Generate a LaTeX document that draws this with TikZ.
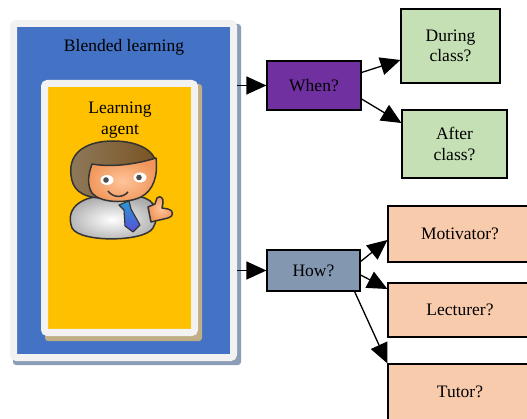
\documentclass[tikz,border=0pt]{standalone}
\usepackage{fontspec}
\setmainfont{Liberation Serif}
\usetikzlibrary{arrows.meta}
\definecolor{panelgray}{HTML}{F2F2F2}
\definecolor{panelshadow}{HTML}{8C9DB8}
\definecolor{blendblue}{HTML}{4472C4}
\definecolor{agentyellow}{HTML}{FFC000}
\definecolor{agentshadow}{HTML}{BFAE86}
\definecolor{whenpurple}{HTML}{7030A0}
\definecolor{wgreen}{HTML}{C5E0B4}
\definecolor{howblue}{HTML}{8497B0}
\definecolor{hpeach}{HTML}{F8CBAD}
\definecolor{hairA}{HTML}{8E7A5C}
\definecolor{hairB}{HTML}{7A5322}
\definecolor{skinA}{HTML}{FFC49A}
\definecolor{skinB}{HTML}{F0965A}
\definecolor{tieA}{HTML}{2A9AD6}
\definecolor{tieB}{HTML}{5A4FD8}
\definecolor{outl}{HTML}{333333}
\begin{document}
\begin{tikzpicture}[x=1pt,y=-1pt,
  txt/.style={font=\fontsize{17.5}{20.5}\selectfont, align=center, text=black},
  box/.style={txt, draw=black, line width=1.2pt, inner sep=0pt},
  arr/.style={line width=1.3pt, -{Triangle[length=20pt,width=18pt]}},
  cart/.style={draw=outl, line width=1.5pt, line join=round}]
\useasboundingbox (0,0) rectangle (527,419);
\clip (0,0) rectangle (527,419);
\fill[white] (0,0) rectangle (527,419);
% outer panel
\fill[panelshadow, rounded corners=3pt] (13,24) rectangle (241,365);
\node[draw=panelgray, line width=7pt, fill=blendblue, rounded corners=3pt,
      minimum width=220pt, minimum height=334pt, inner sep=0pt] (panel) at (123.5,190.5) {};
\node[txt] (title) at (124,47) {Blended learning};
% inner panel
\fill[agentshadow, rounded corners=3pt] (45,84) rectangle (202,341);
\node[draw=panelgray, line width=7pt, fill=agentyellow, rounded corners=3pt,
      minimum width=150pt, minimum height=249pt, inner sep=0pt] (agentpanel) at (119.5,208) {};
\node[txt] (agent) at (120,120) {Learning\\agent};
% clipart person
\shadedraw[cart, inner color=white, outer color=gray!65]
  (72,228) .. controls (64,206) and (85,196) .. (105,196) -- (140,197)
  .. controls (157,199) and (160,216) .. (153,228)
  .. controls (145,242) and (80,243) .. (72,228) -- cycle;
\shadedraw[cart, top color=tieA, bottom color=tieB, line width=1.1pt]
  (119,205) -- (129,201) -- (131,209) -- (140,225) -- (133,232) -- (125,226) -- (124,210) -- cycle;
\shadedraw[cart, inner color=skinA, outer color=skinB]
  (148,207) -- (155,204) -- (157,198) .. controls (160,195) and (164,198) .. (163,203)
  -- (162,208) -- (168,209) .. controls (174,210) and (174,217) .. (168,218) -- (151,222) -- cycle;
\shadedraw[cart, left color=hairA, right color=hairB]
  (71,175) .. controls (68,150) and (90,141) .. (113,141)
  .. controls (140,141) and (158,152) .. (156,168)
  .. controls (155,185) and (120,200) .. (100,198)
  .. controls (80,197) and (72,188) .. (71,175) -- cycle;
\shadedraw[cart, inner color=skinA, outer color=skinB]
  (92,164) .. controls (115,168) and (140,163) .. (156,158)
  .. controls (158,175) and (154,190) .. (141,197)
  .. controls (126,204) and (100,203) .. (92,193)
  .. controls (87,185) and (88,175) .. (92,164) -- cycle;
\fill[white] (107,180) ellipse [x radius=6.5pt, y radius=5pt];
\fill[white] (140,177.5) ellipse [x radius=6.5pt, y radius=5pt];
\fill[gray!60!black] (106,180) circle [radius=2.8pt];
\fill[gray!60!black] (139,177.5) circle [radius=2.8pt];
\draw[cart] (108,191) .. controls (113,198) and (123,198) .. (128,192);
% right side
\node[box, fill=whenpurple, minimum width=94pt, minimum height=49pt] (when) at (314,85.5) {When?};
\node[box, fill=wgreen, minimum width=99pt, minimum height=74pt] (during) at (450.5,46) {During\\class?};
\node[box, fill=wgreen, minimum width=105pt, minimum height=68pt] (after) at (454.5,144) {After\\class?};
\node[box, fill=howblue, minimum width=93pt, minimum height=41pt] (how) at (313.5,270.5) {How?};
\node[box, fill=hpeach, minimum width=144pt, minimum height=56pt] (motiv) at (460,234) {Motivator?};
\node[box, fill=hpeach, minimum width=144pt, minimum height=54pt] (lect) at (460,310) {Lecturer?};
\node[box, fill=hpeach, minimum width=144pt, minimum height=58pt] (tutor) at (460,393) {};
\node[txt] (tutortxt) at (460,392) {Tutor?};
% connectors
\draw[arr] (panel.east |- when.west) -- (when.west);
\draw[arr] (panel.east |- how.west) -- (how.west);
\draw[arr] ([yshift=13pt]when.east) -- ([yshift=-14pt]during.west);
\draw[arr] ([yshift=-13.5pt]when.east) -- ([yshift=21pt]after.west);
\draw[arr] ([yshift=9pt]how.east) -- ([yshift=-6pt]motiv.west);
\draw[arr] ([yshift=-4.5pt]how.east) -- ([yshift=21pt]lect.west);
\draw[arr] ([xshift=-6pt]how.south east) -- (tutor.north west);
\end{tikzpicture}
\end{document}
